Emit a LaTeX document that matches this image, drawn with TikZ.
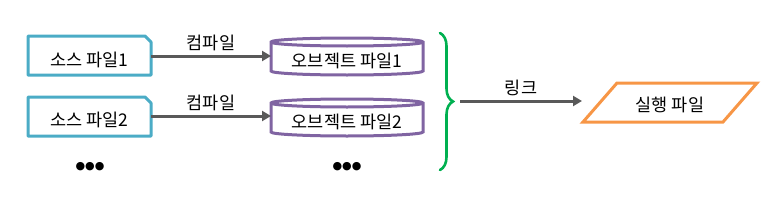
\documentclass[tikz,border=0pt]{standalone}
\usepackage{fontspec}
\setmainfont{Noto Sans CJK KR}
\newfontfamily\dotfont{DejaVu Sans}
\usetikzlibrary{arrows.meta,decorations.pathreplacing}
\definecolor{srcblue}{HTML}{4BACC6}
\definecolor{objpurple}{HTML}{8064A2}
\definecolor{arrgray}{HTML}{595959}
\definecolor{brgreen}{HTML}{00B050}
\definecolor{exeorange}{HTML}{F79646}
\tikzset{
  txt/.style={font=\fontsize{17.5}{19}\selectfont, inner sep=0pt},
  srcbox/.style={draw=srcblue, line width=3pt, fill=white, line join=round},
  objcyl/.style={draw=objpurple, line width=3pt, fill=white},
  flow/.style={draw=arrgray, line width=3pt, -{Triangle[length=9pt,width=10pt]}},
  exebox/.style={draw=exeorange, line width=3pt, fill=white, line join=miter},
  dots/.style={font=\dotfont\fontsize{11}{13}\selectfont, inner sep=0pt}
}
\begin{document}
\begin{tikzpicture}[x=1pt,y=-1pt]
\useasboundingbox (0,0) rectangle (782,206);
% source boxes
\foreach \i/\y in {1/36,2/97}{
  \draw[srcbox] (28,\y) -- (145,\y) -- (151,\y+6) -- (151,\y+39) -- (28,\y+39) -- cycle;
}
\node[txt] (s1) at (89.5,59.5) {소스 파일1};
\node[txt] (s2) at (89.5,120) {소스 파일2};
% object cylinders
\foreach \y in {42,103}{
  \draw[objcyl] (271,\y) -- (271,\y+29) arc[start angle=180,end angle=360,x radius=76,y radius=-4] -- (423,\y)
     arc[start angle=0,end angle=180,x radius=76,y radius=-4] -- cycle;
  \draw[objcyl] (271,\y) arc[start angle=180,end angle=360,x radius=76,y radius=-4];
}
\node[txt] (o1) at (347,61) {오브젝트 파일1};
\node[txt] (o2) at (347,122) {오브젝트 파일2};
\coordinate (o1w) at (271,56);
\coordinate (o2w) at (271,116);
\coordinate (s1e) at (151,56);
\coordinate (s2e) at (151,116);
\draw[flow] (s1e) -- node[txt, above=4pt] (c1) {컴파일} (o1w);
\draw[flow] (s2e) -- node[txt, above=4pt] (c2) {컴파일} (o2w);
% dots
\node[dots] (d1) at (90,167) {●●●};
\node[dots] (d2) at (347,167) {●●●};
% brace
\coordinate (bt) at (440,33);
\coordinate (bb) at (440,170);
\draw[draw=brgreen, line width=2.6pt, line cap=round, decorate, decoration={brace, amplitude=13pt, aspect=0.5}] (bt) -- (bb);
% executable
\draw[exebox] (617,83) -- (757,83) -- (723,122) -- (583,122) -- cycle;
\node[txt] (e) at (670,105) {실행 파일};
\coordinate (ew) at (582,101);
\coordinate (ls) at (460,101);
\draw[flow] (ls) -- node[txt, above=4pt] (lk) {링크} (ew);
\end{tikzpicture}
\end{document}
